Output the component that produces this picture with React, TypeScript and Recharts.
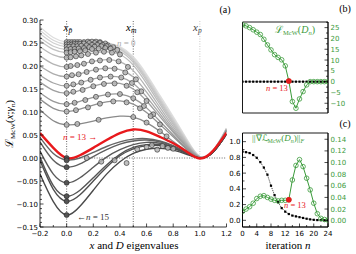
import React from "react";
import { ComposedChart, Line, Scatter, XAxis, YAxis, ReferenceLine, ReferenceArea } from "recharts";

// ---------- panel (a) data ----------
const xGrid = [-0.2, -0.1, 0, 0.1, 0.2, 0.3, 0.4, 0.5, 0.6, 0.7, 0.8, 0.9, 1.0, 1.1, 1.2];

// loss curves for n = 0..12 (gray, above the red one)
const upperCurves = [
  [0.285, 0.262, 0.252, 0.252, 0.253, 0.251, 0.242, 0.22, 0.182, 0.136, 0.09, 0.042, 0.003, 0.016, 0.065],
  [0.278, 0.256, 0.247, 0.248, 0.25, 0.249, 0.24, 0.217, 0.178, 0.132, 0.086, 0.04, 0.003, 0.016, 0.064],
  [0.27, 0.25, 0.242, 0.243, 0.246, 0.246, 0.238, 0.214, 0.175, 0.129, 0.083, 0.038, 0.003, 0.016, 0.064],
  [0.262, 0.243, 0.236, 0.238, 0.242, 0.243, 0.236, 0.212, 0.172, 0.126, 0.08, 0.036, 0.003, 0.016, 0.063],
  [0.255, 0.236, 0.229, 0.232, 0.237, 0.239, 0.232, 0.208, 0.168, 0.122, 0.077, 0.034, 0.002, 0.016, 0.063],
  [0.242, 0.224, 0.218, 0.222, 0.228, 0.231, 0.225, 0.202, 0.162, 0.117, 0.073, 0.032, 0.002, 0.016, 0.062],
  [0.222, 0.204, 0.198, 0.203, 0.21, 0.214, 0.209, 0.19, 0.153, 0.11, 0.068, 0.03, 0.002, 0.015, 0.062],
  [0.2, 0.183, 0.177, 0.183, 0.191, 0.195, 0.192, 0.176, 0.143, 0.103, 0.063, 0.028, 0.002, 0.015, 0.061],
  [0.18, 0.163, 0.157, 0.163, 0.172, 0.177, 0.176, 0.162, 0.133, 0.096, 0.059, 0.026, 0.002, 0.015, 0.061],
  [0.165, 0.147, 0.141, 0.147, 0.156, 0.162, 0.162, 0.15, 0.124, 0.09, 0.056, 0.024, 0.001, 0.015, 0.06],
  [0.142, 0.123, 0.117, 0.123, 0.132, 0.138, 0.139, 0.13, 0.109, 0.08, 0.05, 0.021, 0.001, 0.014, 0.06],
  [0.128, 0.108, 0.101, 0.106, 0.115, 0.122, 0.124, 0.117, 0.099, 0.073, 0.046, 0.019, 0.001, 0.014, 0.059],
  [0.105, 0.081, 0.072, 0.074, 0.08, 0.087, 0.091, 0.089, 0.077, 0.058, 0.036, 0.015, 0.0, 0.013, 0.058],
];
const upperColors = ["#dedede", "#d7d7d7", "#d0d0d0", "#c9c9c9", "#c2c2c2", "#bbbbbb", "#b4b4b4", "#adadad", "#a6a6a6", "#9f9f9f", "#989898", "#919191", "#8a8a8a"];

// n = 13
const redCurve = [0.054, 0.022, 0.0, 0.006, 0.022, 0.039, 0.054, 0.062, 0.058, 0.046, 0.032, 0.014, -0.001, 0.016, 0.055];

// deeper wells after n = 13
const lowerCurves = [
  [0.045, 0.01, -0.004, 0.0, 0.012, 0.025, 0.035, 0.041, 0.042, 0.037, 0.027, 0.012, 0.0, 0.013, 0.052],
  [0.035, -0.005, -0.02, -0.013, 0.003, 0.018, 0.03, 0.037, 0.039, 0.035, 0.026, 0.012, 0.0, 0.013, 0.052],
  [0.015, -0.035, -0.054, -0.043, -0.02, 0.002, 0.018, 0.029, 0.034, 0.032, 0.024, 0.011, 0.0, 0.013, 0.052],
  [0.002, -0.06, -0.083, -0.07, -0.043, -0.015, 0.008, 0.023, 0.029, 0.029, 0.022, 0.01, 0.0, 0.013, 0.052],
  [-0.005, -0.068, -0.094, -0.08, -0.05, -0.02, 0.005, 0.02, 0.027, 0.027, 0.021, 0.01, 0.0, 0.013, 0.052],
  [-0.035, -0.095, -0.124, -0.105, -0.07, -0.035, -0.008, 0.01, 0.019, 0.021, 0.017, 0.008, 0.0, 0.013, 0.052],
];
const lowerColors = ["#666666", "#606060", "#5a5a5a", "#555555", "#505050", "#4a4a4a"];

// eigenvalues of D_n sitting on the curves
const eigRows: [number, number][][] = [
  [[0, 0.252], [0.02, 0.252], [0.04, 0.252], [0.06, 0.252], [0.08, 0.252], [0.1, 0.252], [0.13, 0.252], [0.16, 0.253], [0.19, 0.253], [0.22, 0.253], [0.25, 0.252]],
  [[0, 0.247], [0.02, 0.247], [0.04, 0.247], [0.06, 0.248], [0.08, 0.248], [0.1, 0.248], [0.13, 0.249], [0.17, 0.25], [0.21, 0.25], [0.25, 0.25], [0.29, 0.249]],
  [[0, 0.242], [0.02, 0.242], [0.05, 0.243], [0.08, 0.243], [0.11, 0.244], [0.15, 0.245], [0.19, 0.246], [0.23, 0.246], [0.27, 0.246], [0.31, 0.245]],
  [[0, 0.236], [0.03, 0.237], [0.06, 0.237], [0.09, 0.238], [0.13, 0.239], [0.17, 0.241], [0.21, 0.242], [0.26, 0.243], [0.3, 0.243], [0.35, 0.241]],
  [[0, 0.229], [0.03, 0.23], [0.06, 0.231], [0.1, 0.232], [0.14, 0.234], [0.19, 0.237], [0.24, 0.238], [0.29, 0.239], [0.33, 0.238], [0.38, 0.235]],
  [[0, 0.218], [0.03, 0.219], [0.07, 0.221], [0.11, 0.223], [0.16, 0.226], [0.22, 0.229], [0.28, 0.231], [0.34, 0.229], [0.4, 0.225]],
  [[0, 0.198], [0.03, 0.2], [0.08, 0.202], [0.13, 0.205], [0.19, 0.21], [0.25, 0.212], [0.32, 0.213], [0.39, 0.21], [0.46, 0.198]],
  [[0, 0.177], [0.04, 0.18], [0.09, 0.182], [0.15, 0.187], [0.22, 0.192], [0.29, 0.195], [0.36, 0.194], [0.44, 0.186], [0.52, 0.171]],
  [[0, 0.157], [0.05, 0.16], [0.11, 0.164], [0.18, 0.17], [0.25, 0.175], [0.33, 0.177], [0.41, 0.175], [0.49, 0.163], [0.56, 0.145]],
  [[0, 0.141], [0.05, 0.144], [0.12, 0.148], [0.2, 0.156], [0.28, 0.161], [0.36, 0.162], [0.45, 0.157], [0.53, 0.143], [0.6, 0.124]],
  [[0, 0.117], [0.06, 0.12], [0.14, 0.126], [0.22, 0.133], [0.31, 0.138], [0.4, 0.139], [0.5, 0.13], [0.58, 0.113], [0.65, 0.095]],
  [[0, 0.101], [0.07, 0.104], [0.16, 0.11], [0.25, 0.118], [0.35, 0.123], [0.45, 0.121], [0.55, 0.108], [0.63, 0.091], [0.7, 0.073]],
  [[0, 0.072], [0.08, 0.074], [0.24, 0.083], [0.5, 0.089], [0.6, 0.077], [0.7, 0.058], [0.75, 0.047]],
];
const lowerEig: [number, number][] = [
  [0.15, 0.0], [0.26, -0.008], [0.36, -0.005], [0.45, -0.011], [0.53, 0.019], [0.6, 0.024],
  [0.64, 0.028], [0.68, 0.018], [0.72, 0.026], [0.76, 0.022], [0.8, 0.02],
];
const wellDots: [number, number][] = [[0, 0.0], [0, -0.005], [0, -0.02], [0, -0.054], [0, -0.083], [0, -0.094], [0, -0.124]];

const xTicksA = [-0.2, 0, 0.2, 0.4, 0.6, 0.8, 1.0, 1.2];
const xMinorA = [-0.1, 0.1, 0.3, 0.5, 0.7, 0.9, 1.1];
const yTicksA = [-0.15, -0.1, -0.05, 0, 0.05, 0.1, 0.15, 0.2, 0.25, 0.3];

// ---------- panels (b), (c) data ----------
const iterN = [0, 1, 2, 3, 4, 5, 6, 7, 8, 9, 10, 11, 12, 13, 14, 15, 16, 17, 18, 19, 20, 21, 22, 23, 24];
const lossD = [26.3, 25.8, 25.0, 24.0, 22.9, 21.8, 19.6, 17.0, 14.7, 12.5, 11.2, 10.1, 7.3, 0.3, -9.2, -12.3, -8.0, -4.6, -1.5, 0, 0, 0, 0, 0, 0];
const zeroB = [0, 0, 0, 0, 0, 0, 0, 0, 0, 0, 0, 0, 0, 0, 0, 0, 0, 0, 0, 0, 0, 0, 0, 0, 0];
const gradNorm = [0.016, 0.02, 0.024, 0.03, 0.038, 0.042, 0.043, 0.04, 0.037, 0.035, 0.034, 0.035, 0.035, 0.036, 0.07, 0.095, 0.105, 0.093, 0.073, 0.053, 0.03, 0.012, 0.004, 0.002, 0.001];
const blackC = [0.873, 0.866, 0.855, 0.83, 0.795, 0.74, 0.67, 0.58, 0.44, 0.32, 0.23, 0.155, 0.11, 0.08, 0.06, 0.05, 0.04, 0.03, 0.02, 0.012, 0.006, 0.003, 0.001, 0, 0];
const nTicks = [0, 4, 8, 12, 16, 20, 24];
const nMinor = [2, 6, 10, 14, 18, 22];
const yTicksB = [-10, -5, 0, 5, 10, 15, 20, 25];
const yTicksCl = [0, 0.2, 0.4, 0.6, 0.8, 1.0];
const yTicksCr = [0, 0.02, 0.04, 0.06, 0.08, 0.1, 0.12, 0.14];

const GREEN = "#3a9a3a";
const RED = "#e8191c";
const TICKFONT = "DejaVu Sans";
const SERIF = "Liberation Serif";

const minus = (s: string) => s.replace("-", "\u2212");
const near = (v: number, list: number[]) => list.some((m) => Math.abs(m - v) < 1e-9);

function makeTick(side: string, majors: number[], fmt: ((v: number) => string) | null, color = "#000") {
  return (props: any) => {
    const { x, y, payload } = props;
    const v = payload.value;
    const major = near(v, majors);
    const len = major ? 3.5 : 2;
    let line = null;
    let txt = null;
    const common = { fontSize: 7, fontFamily: TICKFONT, fill: color };
    if (side === "left") {
      line = <line x1={x} y1={y} x2={x + len} y2={y} stroke="#000" strokeWidth={0.7} />;
      if (major && fmt) txt = <text x={x - 2} y={y + 2.5} textAnchor="end" {...common}>{fmt(v)}</text>;
    } else if (side === "right") {
      line = <line x1={x} y1={y} x2={x - len} y2={y} stroke="#000" strokeWidth={0.7} />;
      if (major && fmt) txt = <text x={x + 2.5} y={y + 2.5} textAnchor="start" {...common}>{fmt(v)}</text>;
    } else if (side === "bottom") {
      line = <line x1={x} y1={y} x2={x} y2={y - len} stroke="#000" strokeWidth={0.7} />;
      if (major && fmt) txt = <text x={x} y={y + 8.5} textAnchor="middle" {...common}>{fmt(v)}</text>;
    } else {
      line = <line x1={x} y1={y} x2={x} y2={y + len} stroke="#000" strokeWidth={0.7} />;
    }
    return <g>{line}{txt}</g>;
  };
}

const toXY = (ys: number[]) => ys.map((y, i) => ({ x: xGrid[i], y }));
const toNY = (ys: number[]) => ys.map((y, i) => ({ n: iterN[i], y }));
const pairs = (p: [number, number][]) => p.map(([x, y]) => ({ x, y }));

const grayCircle = (p: any) => <circle cx={p.cx} cy={p.cy} r={2.5} fill="#b4b4b4" fillOpacity={0.85} stroke="#2a2a2a" strokeWidth={0.6} />;
const darkCircle = (p: any) => <circle cx={p.cx} cy={p.cy} r={2.5} fill="#555" stroke="#222" strokeWidth={0.6} />;
const redDot = (p: any) => <circle cx={p.cx} cy={p.cy} r={2.8} fill={RED} />;
const greenDot = (p: any) => <circle key={p.index} cx={p.cx} cy={p.cy} r={2.3} fill="none" stroke={GREEN} strokeWidth={0.8} />;
const blackSq = (p: any) => <rect key={p.index} x={p.cx - 1.1} y={p.cy - 1.1} width={2.2} height={2.2} fill="#000" />;

const fmtXA = (v: number) => minus(v.toFixed(1));
const fmtYA = (v: number) => minus(v.toFixed(2));
const axisLine = { stroke: "#000", strokeWidth: 0.8 };

const yMinorA = Array.from({ length: 46 }, (_, i) => Math.round((-0.15 + i * 0.01) * 100) / 100);
const yMinorB = Array.from({ length: 9 }, (_, i) => -12.5 + i * 5);

function PanelA() {
  return (
    <ComposedChart width={240} height={254} margin={{ top: 20, right: 13.5, bottom: 7, left: 10 }}>
      <XAxis dataKey="x" type="number" domain={[-0.2, 1.2]} allowDataOverflow ticks={[...xTicksA, ...xMinorA]} interval={0}
        tick={makeTick("bottom", xTicksA, fmtXA)} tickLine={false} tickSize={0} tickMargin={0} height={20} axisLine={axisLine} />
      <XAxis xAxisId="top" orientation="top" type="number" domain={[-0.2, 1.2]} allowDataOverflow ticks={[...xTicksA, ...xMinorA]} interval={0}
        tick={makeTick("top", xTicksA, null)} tickLine={false} tickSize={0} tickMargin={0} height={0} axisLine={axisLine} />
      <YAxis dataKey="y" type="number" domain={[-0.15, 0.3]} allowDataOverflow ticks={yMinorA} interval={0}
        tick={makeTick("left", yTicksA, fmtYA)} tickLine={false} tickSize={0} tickMargin={0} width={30} axisLine={axisLine} />
      <YAxis yAxisId="right" orientation="right" type="number" domain={[-0.15, 0.3]} allowDataOverflow ticks={yMinorA} interval={0}
        tick={makeTick("right", yTicksA, null)} tickLine={false} tickSize={0} tickMargin={0} width={0} axisLine={axisLine} />

      <ReferenceLine x={0} stroke="#444" strokeWidth={0.8} strokeDasharray="1 1.5" />
      <ReferenceLine x={0.5} stroke="#444" strokeWidth={0.8} strokeDasharray="1 1.5" />
      <ReferenceLine x={1} stroke="#bbb" strokeWidth={0.8} strokeDasharray="1 1.5" />
      <ReferenceLine segment={[{ x: 0, y: 0 }, { x: 1.2, y: 0 }]} stroke="#444" strokeWidth={0.8} strokeDasharray="1 1.5" />

      {upperCurves.map((c, i) => (
        <Line key={"u" + i} data={toXY(c)} dataKey="y" type="natural" stroke={upperColors[i]} strokeWidth={1.3} dot={false} isAnimationActive={false} />
      ))}
      {lowerCurves.map((c, i) => (
        <Line key={"l" + i} data={toXY(c)} dataKey="y" type="natural" stroke={lowerColors[i]} strokeWidth={1.4} dot={false} isAnimationActive={false} />
      ))}
      <Line data={toXY(redCurve)} dataKey="y" type="natural" stroke={RED} strokeWidth={2.4} dot={false} isAnimationActive={false} />
      {eigRows.map((r, i) => (
        <Scatter key={"e" + i} data={pairs(r)} dataKey="y" shape={grayCircle} isAnimationActive={false} />
      ))}
      <Scatter data={pairs(lowerEig)} dataKey="y" shape={grayCircle} isAnimationActive={false} />
      <Scatter data={pairs(wellDots)} dataKey="y" shape={darkCircle} isAnimationActive={false} />
    </ComposedChart>
  );
}

function PanelB() {
  return (
    <ComposedChart width={124} height={122} margin={{ top: 22, right: 0, bottom: 9, left: 10.5 }}>
      <XAxis dataKey="n" type="number" domain={[0, 24]} allowDataOverflow ticks={[...nTicks, ...nMinor]} interval={0}
        tick={makeTick("bottom", nTicks, null)} tickLine={false} tickSize={0} tickMargin={0} height={0} axisLine={axisLine} />
      <XAxis xAxisId="top" orientation="top" type="number" domain={[0, 24]} allowDataOverflow ticks={[...nTicks, ...nMinor]} interval={0}
        tick={makeTick("top", nTicks, null)} tickLine={false} tickSize={0} tickMargin={0} height={0} axisLine={axisLine} />
      <YAxis yAxisId="l" type="number" domain={[-14.5, 27.6]} allowDataOverflow ticks={[...yTicksB, ...yMinorB]} interval={0}
        tick={makeTick("left", yTicksB, null)} tickLine={false} tickSize={0} tickMargin={0} width={0} axisLine={axisLine} />
      <YAxis yAxisId="r" dataKey="y" orientation="right" type="number" domain={[-14.5, 27.6]} allowDataOverflow ticks={[...yTicksB, ...yMinorB]} interval={0}
        tick={makeTick("right", yTicksB, (v) => minus(String(v)), GREEN)} tickLine={false} tickSize={0} tickMargin={0} width={28} axisLine={axisLine} />
      <ReferenceArea yAxisId="r" x1={0} x2={24} y1={-14.5} y2={27.6} fill="none" stroke="#000" strokeWidth={0.9} ifOverflow="visible" />
      <Line yAxisId="r" data={toNY(zeroB)} dataKey="y" stroke="#000" strokeWidth={0.8} strokeDasharray="1 1" dot={blackSq} isAnimationActive={false} />
      <Line yAxisId="r" data={toNY(lossD)} dataKey="y" stroke={GREEN} strokeWidth={1} dot={greenDot} isAnimationActive={false} />
      <Scatter yAxisId="r" data={[{ n: iterN[13], y: lossD[13] }]} dataKey="y" shape={redDot} isAnimationActive={false} />
    </ComposedChart>
  );
}

function PanelC() {
  return (
    <ComposedChart width={134} height={132} margin={{ top: 11, right: 0, bottom: 7, left: 0 }}>
      <XAxis dataKey="n" type="number" domain={[0, 24]} allowDataOverflow ticks={[...nTicks, ...nMinor]} interval={0}
        tick={makeTick("bottom", nTicks, (v) => String(v))} tickLine={false} tickSize={0} tickMargin={0} height={20} axisLine={axisLine} />
      <XAxis xAxisId="top" orientation="top" type="number" domain={[0, 24]} allowDataOverflow ticks={[...nTicks, ...nMinor]} interval={0}
        tick={makeTick("top", nTicks, null)} tickLine={false} tickSize={0} tickMargin={0} height={0} axisLine={axisLine} />
      <YAxis yAxisId="l" dataKey="y" type="number" domain={[-0.085, 1.11]} allowDataOverflow ticks={[0, 0.1, 0.2, 0.3, 0.4, 0.5, 0.6, 0.7, 0.8, 0.9, 1.0]} interval={0}
        tick={makeTick("left", yTicksCl, (v) => v.toFixed(1))} tickLine={false} tickSize={0} tickMargin={0} width={20.5} axisLine={axisLine} />
      <YAxis yAxisId="r" dataKey="y" orientation="right" type="number" domain={[-0.0109, 0.1508]} allowDataOverflow ticks={yTicksCr} interval={0}
        tick={makeTick("right", yTicksCr, (v) => v.toFixed(2), GREEN)} tickLine={false} tickSize={0} tickMargin={0} width={28} axisLine={axisLine} />
      <ReferenceArea yAxisId="l" x1={0} x2={24} y1={-0.085} y2={1.11} fill="none" stroke="#000" strokeWidth={0.9} ifOverflow="visible" />
      <Line yAxisId="l" data={toNY(blackC)} dataKey="y" stroke="#000" strokeWidth={0.8} strokeDasharray="1 1" dot={blackSq} isAnimationActive={false} />
      <Line yAxisId="r" data={toNY(gradNorm)} dataKey="y" stroke={GREEN} strokeWidth={1} dot={greenDot} isAnimationActive={false} />
      <Scatter yAxisId="r" data={[{ n: iterN[13], y: gradNorm[13] }]} dataKey="y" shape={redDot} isAnimationActive={false} />
    </ComposedChart>
  );
}

function Overlay() {
  const it = { fontStyle: "italic" as const };
  return (
    <svg width={356} height={254} style={{ position: "absolute", left: 0, top: 0, pointerEvents: "none" }} fontFamily={SERIF}>
      <text x={225} y={13} fontSize={10} textAnchor="middle">(a)</text>
      <text x={345} y={12} fontSize={10} textAnchor="middle">(b)</text>
      <text x={345} y={127} fontSize={10} textAnchor="middle">(c)</text>

      <text x={63.5} y={31} fontSize={11}><tspan {...it}>x</tspan><tspan fontSize={7.5} dy={2} {...it}>p̄</tspan></text>
      <text x={126} y={31} fontSize={11}><tspan {...it}>x</tspan><tspan fontSize={7.5} dy={2} {...it}>m</tspan></text>
      <text x={193} y={31} fontSize={11} fill="#444"><tspan {...it}>x</tspan><tspan fontSize={7.5} dy={2} {...it}>p</tspan></text>

      <text x={108} y={46} fontSize={9} fill="#aaa">←<tspan {...it}>n</tspan> = 0</text>
      <text x={63} y={140} fontSize={9} fill={RED}><tspan {...it}>n</tspan> = 13 →</text>
      <text x={77} y={220} fontSize={9} fill="#333">←<tspan {...it}>n</tspan> = 15</text>

      <text transform="translate(13,124) rotate(-90)" fontSize={11} textAnchor="middle">
        ℒ<tspan fontSize={7} dy={2}>McW</tspan><tspan dy={-2}>(</tspan><tspan {...it}>x</tspan>;<tspan {...it}>γ</tspan><tspan fontSize={7} dy={2} {...it}>n</tspan><tspan dy={-2}>)</tspan>
      </text>
      <text x={134} y={249} fontSize={11} textAnchor="middle"><tspan {...it}>x</tspan> and <tspan {...it}>D</tspan> eigenvalues</text>
      <text x={288} y={249} fontSize={11} textAnchor="middle">iteration <tspan {...it}>n</tspan></text>

      <text x={275} y={33} fontSize={10} fill={GREEN}>ℒ<tspan fontSize={6.5} dy={2}>McW</tspan><tspan dy={-2}>(</tspan><tspan {...it}>D</tspan><tspan fontSize={6.5} dy={2} {...it}>n</tspan><tspan dy={-2}>)</tspan></text>
      <text x={252} y={141} fontSize={9} fill={GREEN}>||∇ℒ<tspan fontSize={6} dy={2}>McW</tspan><tspan dy={-2}>(</tspan><tspan {...it}>D</tspan><tspan fontSize={6} dy={2} {...it}>n</tspan><tspan dy={-2}>)||</tspan><tspan fontSize={6} dy={2} {...it}>F</tspan></text>

      <text x={266} y={91} fontSize={8.5} fill={RED}><tspan {...it}>n</tspan> = 13</text>
      <text x={284} y={208} fontSize={8.5} fill={RED}><tspan {...it}>n</tspan> = 13</text>
    </svg>
  );
}

export default function App() {
  return (
    <div style={{ position: "absolute", left: 0, top: 0, width: 356, height: 254, background: "#fff", overflow: "hidden" }}>
      <div style={{ position: "absolute", left: 0, top: 0 }}><PanelA /></div>
      <div style={{ position: "absolute", left: 232, top: 0 }}><PanelB /></div>
      <div style={{ position: "absolute", left: 222, top: 122 }}><PanelC /></div>
      <Overlay />
    </div>
  );
}
